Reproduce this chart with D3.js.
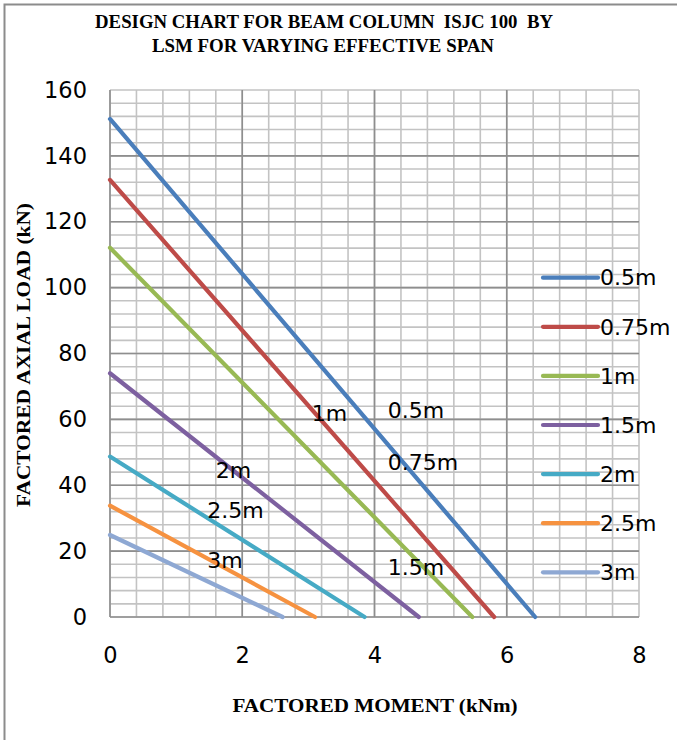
<!DOCTYPE html>
<html>
<head>
<meta charset="utf-8">
<script src="https://cdn.jsdelivr.net/npm/d3@7"></script>
<style>
  html, body { margin: 0; padding: 0; background: #fff; }
  svg { display: block; }
  .ttl { white-space: pre; }
</style>
</head>
<body>
<svg id="chart" width="677" height="740"></svg>
<script>
// Effective spans (legend order) and their straight design lines: axial load vs moment
const spans = ["0.5m", "0.75m", "1m", "1.5m", "2m", "2.5m", "3m"];
const colors = ["#4A7EBB", "#BE4B48", "#98B954", "#7D60A0", "#46AAC5", "#F69240", "#8EA8D3"];
const moments = [
  [0, 6.43],
  [0, 5.81],
  [0, 5.48],
  [0, 4.67],
  [0, 3.85],
  [0, 3.10],
  [0, 2.61]
];
const loads = [
  [151.2, 0],
  [132.7, 0],
  [112.1, 0],
  [74.0, 0],
  [48.7, 0],
  [33.8, 0],
  [24.9, 0]
];
const xTicks = [0, 2, 4, 6, 8];
const yTicks = [0, 20, 40, 60, 80, 100, 120, 140, 160];
// In-plot span labels: text, anchor moment, anchor load
const labelText = ["1m", "0.5m", "0.75m", "2m", "2.5m", "3m", "1.5m"];
const labelMoment = [3.05, 4.2, 4.2, 1.6, 1.47, 1.47, 4.2];
const labelLoad = [59.5, 60.5, 44.5, 42.2, 30.1, 15.0, 12.8];

const title1 = "DESIGN CHART FOR BEAM COLUMN  ISJC 100  BY";
const title2 = "LSM FOR VARYING EFFECTIVE SPAN";
const xTitle = "FACTORED MOMENT (kNm)";
const yTitle = "FACTORED AXIAL LOAD (kN)";

const svg = d3.select("#chart");
const x = d3.scaleLinear().domain([0, 8]).range([110, 639]);
const y = d3.scaleLinear().domain([0, 160]).range([617, 90]);

const sansFont = "'DejaVu Sans', 'Noto Sans', sans-serif";
const serifFont = "'Liberation Serif', 'DejaVu Serif', serif";

// outer chart frame
svg.append("rect")
  .attr("x", 4.5).attr("y", 4.5).attr("width", 720).attr("height", 780)
  .attr("fill", "none").attr("stroke", "#8c8c8c").attr("stroke-width", 2);

// grid: minor then major
const minorX = d3.range(0, 8.0001, 0.4);
const minorY = d3.range(0, 160.0001, 4);
const grid = svg.append("g");
grid.selectAll(".mx").data(minorX).join("line")
  .attr("x1", d => x(d)).attr("x2", d => x(d))
  .attr("y1", y(0)).attr("y2", y(160))
  .attr("stroke", "#c3c3c3").attr("stroke-width", 1.6);
grid.selectAll(".my").data(minorY).join("line")
  .attr("x1", x(0)).attr("x2", x(8))
  .attr("y1", d => y(d)).attr("y2", d => y(d))
  .attr("stroke", "#c3c3c3").attr("stroke-width", 1.6);
grid.selectAll(".Mx").data(xTicks.filter(d => d < 8)).join("line")
  .attr("x1", d => x(d)).attr("x2", d => x(d))
  .attr("y1", y(0)).attr("y2", y(160))
  .attr("stroke", "#8e8e8e").attr("stroke-width", 1.6);
grid.selectAll(".My").data(yTicks.filter(d => d < 160)).join("line")
  .attr("x1", x(0)).attr("x2", x(8))
  .attr("y1", d => y(d)).attr("y2", d => y(d))
  .attr("stroke", "#8e8e8e").attr("stroke-width", 1.6);

// axes (labels only; lines come from the grid)
const xAxis = svg.append("g").attr("transform", `translate(0,${y(0)})`)
  .call(d3.axisBottom(x).tickValues(xTicks).tickSize(0).tickPadding(30));
const yAxis = svg.append("g").attr("transform", `translate(${x(0)},0)`)
  .call(d3.axisLeft(y).tickValues(yTicks).tickSize(0).tickPadding(23));
[xAxis, yAxis].forEach(g => {
  g.select(".domain").remove();
  g.selectAll("text").attr("font-family", sansFont).attr("font-size", 22.5)
    .attr("fill", "#000");
});

// series lines
const line = d3.line().x(d => x(d[0])).y(d => y(d[1]));
const series = spans.map((s, i) => ({
  name: s, color: colors[i],
  pts: moments[i].map((m, j) => [m, loads[i][j]])
}));
svg.append("g").selectAll("path").data(series).join("path")
  .attr("d", d => line(d.pts))
  .attr("fill", "none").attr("stroke", d => d.color)
  .attr("stroke-width", 4.2).attr("stroke-linecap", "round");

// in-plot labels
svg.append("g").selectAll("text").data(labelText).join("text")
  .attr("x", (d, i) => x(labelMoment[i]))
  .attr("y", (d, i) => y(labelLoad[i]))
  .attr("font-family", sansFont).attr("font-size", 22).attr("fill", "#000")
  .text(d => d);

// legend
const legend = svg.append("g");
const legY = d3.scalePoint().domain(spans).range([277.7, 572.3]);
legend.selectAll("line").data(series).join("line")
  .attr("x1", 543).attr("x2", 598)
  .attr("y1", d => legY(d.name)).attr("y2", d => legY(d.name))
  .attr("stroke", d => d.color).attr("stroke-width", 4.2).attr("stroke-linecap", "round");
legend.selectAll("text").data(series).join("text")
  .attr("x", 600).attr("y", d => legY(d.name)).attr("dy", "0.35em")
  .attr("font-family", sansFont).attr("font-size", 22).attr("fill", "#000")
  .text(d => d.name);

// titles
function boldText(tx, ty, str, size, len, rotate) {
  const t = svg.append("text").attr("class", "ttl")
    .attr("transform", `translate(${tx},${ty})` + (rotate ? " rotate(-90)" : ""))
    .attr("text-anchor", "middle")
    .attr("font-family", serifFont).attr("font-weight", "bold").attr("font-size", size)
    .attr("textLength", len).attr("lengthAdjust", "spacingAndGlyphs")
    .text(str);
  return t;
}
boldText(324, 28, title1, 18.5, 458);
boldText(323, 52, title2, 18.5, 342);
boldText(375, 712, xTitle, 19, 285);
boldText(30, 355, yTitle, 19, 304, true);
</script>
</body>
</html>
